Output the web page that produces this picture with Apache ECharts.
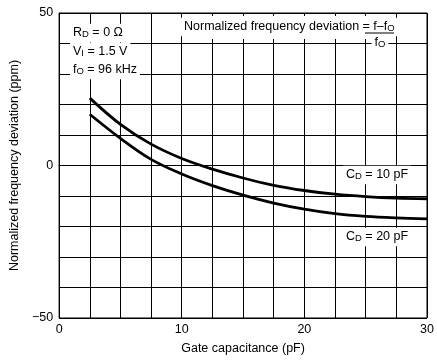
<!DOCTYPE html>
<html>
<head>
<meta charset="utf-8">
<script src="https://cdn.jsdelivr.net/npm/echarts@6/dist/echarts.min.js"></script>
<style>
  html, body { margin: 0; padding: 0; background: #fff; }
  #chart { width: 437px; height: 360px; }
</style>
</head>
<body>
<div id="chart"></div>
<script>
// values
const gateCap = [2.5, 5, 7.5, 10, 12.5, 15, 17.5, 20, 22.5, 25, 27.5, 30];
const cd10 = [22.1, 13.5, 7.0, 2.3, -1.2, -4.1, -6.5, -8.2, -9.4, -10.2, -10.7, -10.9];
const cd20 = [16.8, 8.9, 2.0, -2.8, -6.6, -9.7, -12.3, -14.3, -15.8, -16.7, -17.2, -17.5];
const xLabels = [0, 10, 20, 30];
const yLabels = [50, 0, -50];

const FONT = 'Liberation Sans, Arial, sans-serif';
const chart = echarts.init(document.getElementById('chart'));

const toPairs = ys => gateCap.map((x, i) => [x, ys[i]]);

// small capital subscripts sit on the baseline in the reference
const sub = {
  n: { fontSize: 12.5, fontFamily: FONT, color: '#000', verticalAlign: 'bottom', lineHeight: 12.5 },
  s: { fontSize: 9.5, fontFamily: FONT, color: '#000', verticalAlign: 'bottom', lineHeight: 9.5 }
};

function label(text, x, y, align) {
  return {
    type: 'text',
    z: 100,
    x: x,
    y: y,
    style: {
      text: text,
      rich: sub,
      align: align || 'left',
      verticalAlign: 'middle',
      backgroundColor: '#fff',
      padding: [3, 3]
    }
  };
}

const option = {
  animation: false,
  grid: {
    left: 58,
    right: 10,
    top: 13,
    bottom: 39,
    show: true,
    borderColor: '#000',
    borderWidth: 1
  },
  xAxis: {
    type: 'value',
    min: 0,
    max: 30,
    interval: 2.5,
    name: 'Gate capacitance (pF)',
    nameLocation: 'middle',
    nameGap: 24,
    nameTextStyle: { fontSize: 12.5, fontFamily: FONT, color: '#000' },
    axisLine: { lineStyle: { color: '#000', width: 1 } },
    axisTick: { show: false },
    splitLine: { lineStyle: { color: '#000', width: 1 } },
    axisLabel: {
      fontSize: 12.5,
      fontFamily: FONT,
      color: '#000',
      margin: 5,
      formatter: v => (xLabels.includes(v) ? String(v) : '')
    }
  },
  yAxis: {
    type: 'value',
    min: -50,
    max: 50,
    interval: 10,
    name: 'Normalized frequency deviation (ppm)',
    nameLocation: 'middle',
    nameGap: 32,
    nameTextStyle: { fontSize: 12.5, fontFamily: FONT, color: '#000' },
    axisLine: { lineStyle: { color: '#000', width: 1 } },
    axisTick: { show: false },
    splitLine: { lineStyle: { color: '#000', width: 1 } },
    axisLabel: {
      fontSize: 12.5,
      fontFamily: FONT,
      color: '#000',
      margin: 6,
      formatter: v => (yLabels.includes(v) ? String(v).replace('-', '\u2212') : '')
    }
  },
  series: [
    {
      name: 'CD = 10 pF',
      type: 'line',
      data: toPairs(cd10),
      smooth: 0.35,
      showSymbol: false,
      lineStyle: { color: '#000', width: 2.8 }
    },
    {
      name: 'CD = 20 pF',
      type: 'line',
      data: toPairs(cd20),
      smooth: 0.35,
      showSymbol: false,
      lineStyle: { color: '#000', width: 2.8 }
    }
  ],
  graphic: [
    // conditions, top left
    label('{n|R}{s|D}{n| = 0 Ω}', 70, 33),
    label('{n|V}{s|I}{n| = 1.5 V}', 70, 52),
    label('{n|f}{s|O}{n| = 96 kHz}', 70, 70),
    // formula, top right
    { type: 'rect', z: 99, shape: { x: 183, y: 16, width: 212, height: 23 }, style: { fill: '#fff' } },
    label('{n|Normalized frequency deviation = f–f}{s|O}', 181, 27),
    { type: 'line', z: 101, shape: { x1: 365, y1: 33, x2: 394, y2: 33 }, style: { stroke: '#000', lineWidth: 1 } },
    label('{n|f}{s|O}', 380, 43, 'center'),
    // curve labels
    label('{n|C}{s|D}{n| = 10 pF}', 343, 175),
    label('{n|C}{s|D}{n| = 20 pF}', 343, 237)
  ]
};

chart.setOption(option);
</script>
</body>
</html>
